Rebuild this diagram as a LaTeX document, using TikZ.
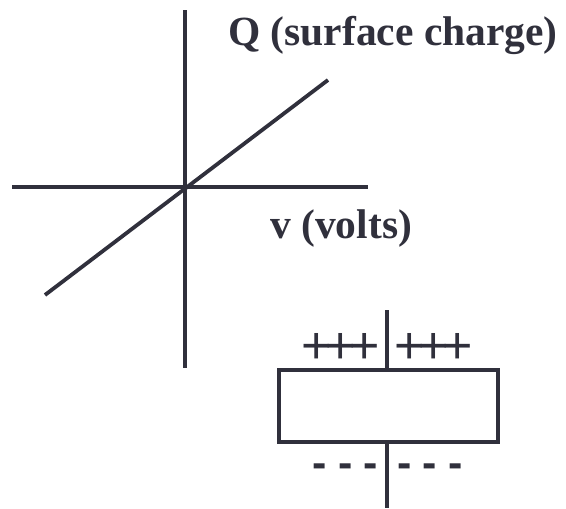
\documentclass[tikz,border=0pt]{standalone}
\usepackage{fontspec}
\setmainfont{Liberation Serif}
\newfontfamily\chgfont{Liberation Sans}
\newfontfamily\chgfontb{Liberation Sans Bold}
\definecolor{ink}{RGB}{48,48,60}
\newcommand\chgbox[2]{\makebox[#1]{#2}}
\begin{document}
\begin{tikzpicture}[x=1pt,y=1pt,
  axis/.style={draw=ink,line width=3.8pt},
  lbl/.style={text=ink,font=\fontsize{41.5}{41.5}\selectfont\bfseries,anchor=base west,inner sep=0},
  plate/.style={draw=ink,line width=3.8pt,minimum width=219pt,minimum height=72pt,inner sep=0},
  plus/.style={text=ink,font=\fontsize{52}{52}\selectfont\chgfont,anchor=base,inner sep=0},
  minus/.style={text=ink,font=\fontsize{43}{43}\selectfont\chgfontb,anchor=base,inner sep=0}]
\useasboundingbox (0,0) rectangle (566,-509);
% axes
\coordinate (vt) at (185,-10);
\coordinate (vb) at (185,-368);
\coordinate (hl) at (12,-187);
\coordinate (hr) at (368,-187);
\coordinate (d1) at (45,-295);
\coordinate (d2) at (328,-80);
\draw[axis] (vt) -- (vb);
\draw[axis] (hl) -- (hr);
\draw[axis] (d1) -- (d2);
\node[lbl] (qlab) at (228,-45) {Q (surface charge)};
\node[lbl] (vlab) at (270,-238) {v (volts)};
% capacitor
\node[plate] (cap) at (388.5,-406) {};
\coordinate (lt) at (387,-310);
\coordinate (lb) at (387,-508);
\draw[axis] (lt) -- (lt |- cap.north);
\draw[axis] (cap.south -| lb) -- (lb);
\node[plus] (pl) at (340.5,-363.5) {\chgbox{24pt}{+}\chgbox{24pt}{+}\chgbox{24pt}{+}};
\node[plus] (pr) at (434,-363.5) {\chgbox{24pt}{+}\chgbox{24pt}{+}\chgbox{24pt}{+}};
\node[minus] (ml) at (345.5,-477.5) {\chgbox{25.5pt}{-}\chgbox{25.5pt}{-}\chgbox{25.5pt}{-}};
\node[minus] (mr) at (430,-477.5) {\chgbox{25.5pt}{-}\chgbox{25.5pt}{-}\chgbox{25.5pt}{-}};
\end{tikzpicture}
\end{document}
